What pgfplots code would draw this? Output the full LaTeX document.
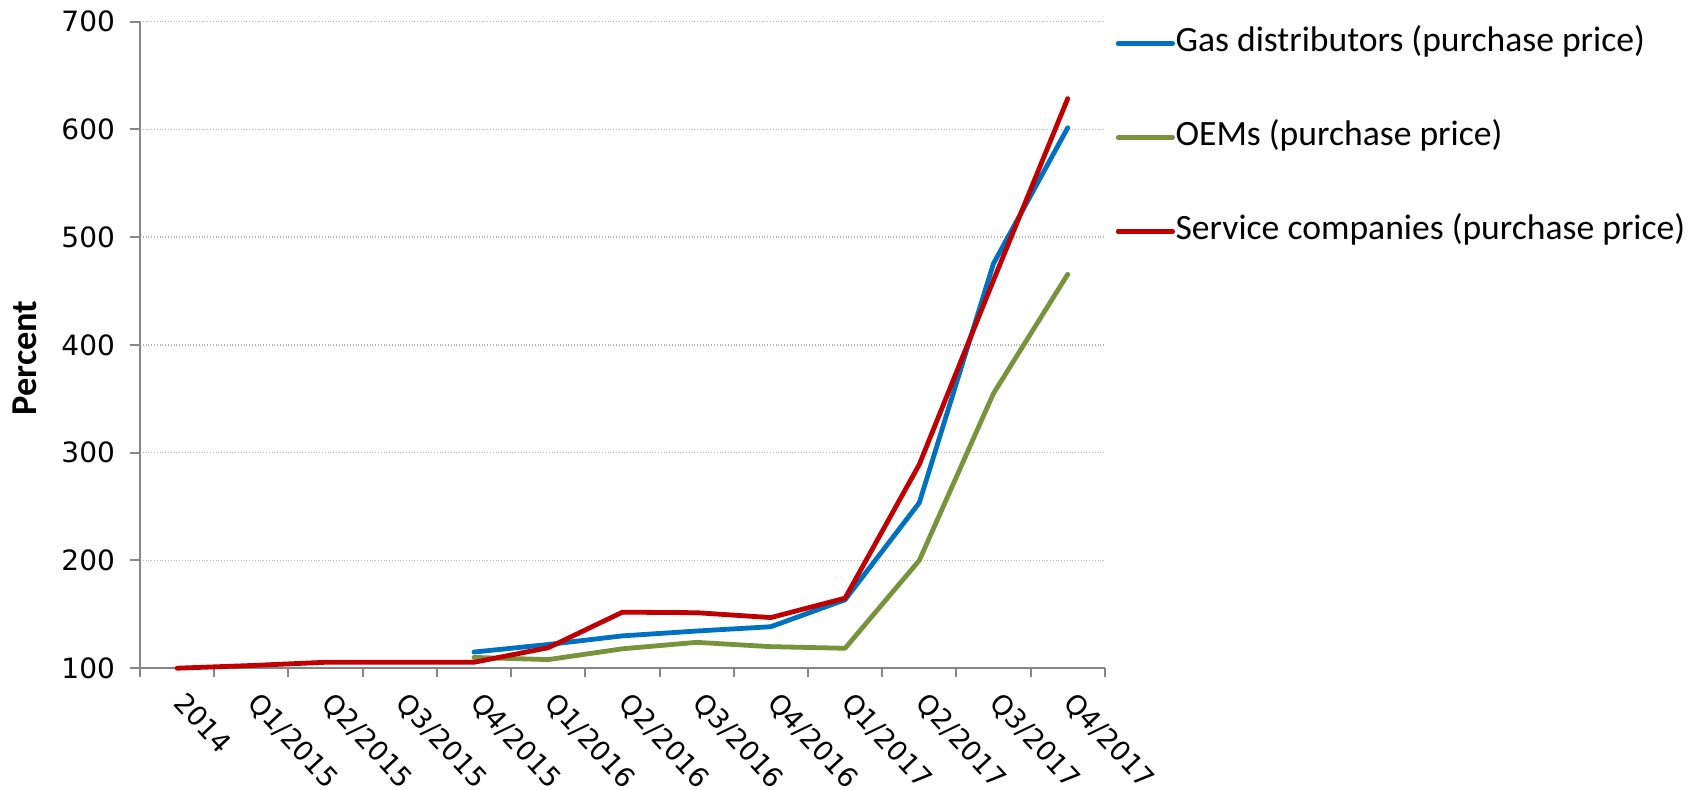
\documentclass[border=0pt]{standalone}
\usepackage{fontspec}
\setmainfont{Carlito}
\newfontfamily\tickfont{DejaVu Sans}
\usepackage{pgfplots}
\pgfplotsset{compat=1.18}
\definecolor{cblue}{HTML}{0070C0}
\definecolor{cgreen}{HTML}{77933C}
\definecolor{cred}{HTML}{C00000}
\definecolor{axgray}{HTML}{868686}
\definecolor{gridgray}{HTML}{B4B4B4}
\newcommand{\fs}{\fontsize{17.8}{21}\selectfont}
\newcommand{\fl}{\fontsize{18.2}{21}\selectfont}
\newcommand{\ft}{\tickfont\fontsize{14}{16.8}\selectfont}
\newcommand{\fx}{\tickfont\fontsize{13.6}{16.3}\selectfont}
\begin{document}
\begin{tikzpicture}
\useasboundingbox (0,0) rectangle (845pt,394.5pt);
\begin{axis}[
  at={(70pt,60.4pt)}, anchor=south west,
  scale only axis, width=482.4pt, height=323.3pt,
  xmin=-0.5, xmax=12.5, ymin=100, ymax=700,
  axis x line*=bottom, axis y line*=left,
  axis line style={-, color=axgray, line width=1pt},
  tick align=outside,
  xtick={0,...,12},
  xticklabels={2014,Q1/2015,Q2/2015,Q3/2015,Q4/2015,Q1/2016,Q2/2016,Q3/2016,Q4/2016,Q1/2017,Q2/2017,Q3/2017,Q4/2017},
  minor xtick={-0.5,0.5,...,12.5},
  major x tick style={draw=none},
  minor x tick style={color=axgray, line width=1pt},
  minor tick length=4.5pt,
  ytick={100,200,...,700},
  major y tick style={color=axgray, line width=1pt},
  major tick length=5pt,
  ymajorgrids,
  major y grid style={densely dotted, color=gridgray, line width=0.8pt},
  tick label style={font=\ft},
  /pgf/number format/assume math mode=true,
  xticklabel style={font=\fx, xshift=5pt, yshift=-5.8pt, rotate=-47, anchor=north west, inner sep=0pt},
  yticklabel style={xshift=-4pt},
  ylabel={\bfseries Percent},
  ylabel style={font=\fl, at={(axis description cs:-0.119,0.48)}, anchor=center},
  clip=false,
  every axis plot/.append style={line width=2.4pt, line cap=round, line join=round},
  legend cell align=left,
  legend style={at={(1,1)}, anchor=north west, xshift=5.3pt, yshift=-1.2pt, draw=none, fill=none,
    font=\fs, inner sep=0pt, row sep=28pt,
    nodes={inner xsep=0.3pt, inner ysep=1.5pt, text height=12pt, text depth=4pt}},
  legend image code/.code={\draw[#1, line cap=round] (0pt,0pt) -- (27.2pt,0pt);},
]
\addplot[color=cblue] coordinates {(4,115) (5,122) (6,130) (7,134.5) (8,138.5) (9,163.5) (10,253.5) (11,475.5) (12,601.5)};
\addlegendentry{Gas distributors (purchase price)}
\addplot[color=cgreen] coordinates {(4,110) (5,108) (6,118) (7,124) (8,120) (9,118.5) (10,200) (11,355) (12,465.5)};
\addlegendentry{OEMs (purchase price)}
\addplot[color=cred] coordinates {(0,100) (1,102.5) (2,105.5) (3,105.5) (4,105.5) (5,119) (6,152) (7,151.5) (8,147) (9,165) (10,289) (11,460) (12,628.5)};
\addlegendentry{Service companies (purchase price)}
\end{axis}
\end{tikzpicture}
\end{document}
